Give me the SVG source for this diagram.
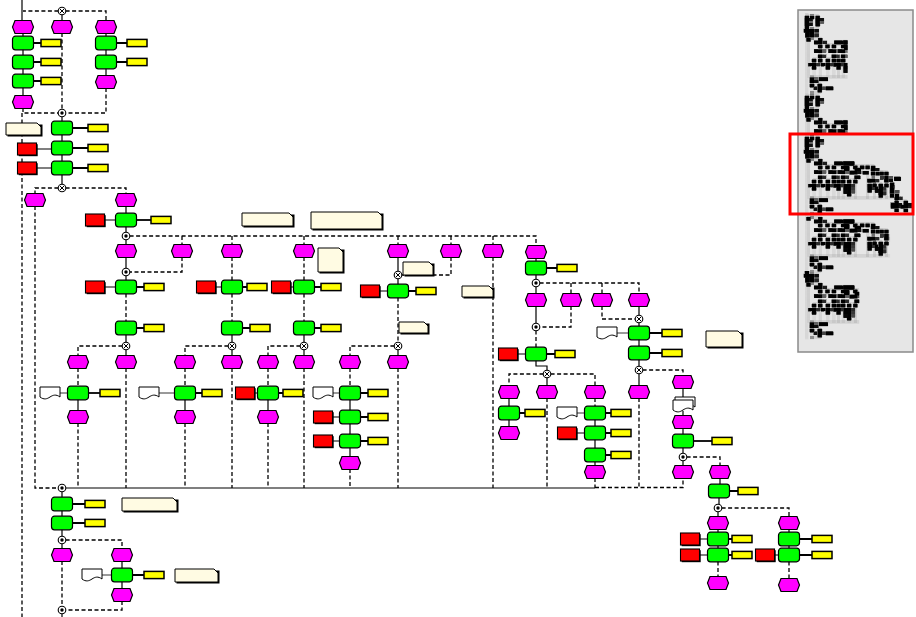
<svg xmlns="http://www.w3.org/2000/svg" width="916" height="617" viewBox="0 0 916 617">
<style>
.s{fill:none;stroke:#000;stroke-width:1.2}
.d{fill:none;stroke:#000;stroke-width:1.3;stroke-dasharray:4,2.5}
.y{fill:none;stroke:#000;stroke-width:1.8}
.t{fill:none;stroke:#000;stroke-width:0.8}
.an{fill:#fffbe3;stroke:#000;stroke-width:1}
.sh{fill:#000}
</style>
<defs>
<path id="ev" d="M-8,-6.5H8L10.5,0L8,6.5H-8L-10.5,0Z" fill="#ff00ff" stroke="#000" stroke-width="1.2"/>
<rect id="fn" x="-10.5" y="-6.8" width="21" height="13.6" rx="3" fill="#00ff00" stroke="#000" stroke-width="1.2"/>
<rect id="ye" x="-10" y="-3.6" width="20" height="7.2" fill="#ffff00" stroke="#000" stroke-width="1.5"/>
<g id="rd"><rect x="-8.3" y="-4.8" width="19" height="12" fill="#000"/><rect x="-9.5" y="-6" width="19" height="12" fill="#ff0000" stroke="#000" stroke-width="1.1"/></g>
<path id="doc" d="M-10,-6H10V4C6,1 3,2 0,4C-3,6 -6,7 -10,4Z" fill="#fff" stroke="#000" stroke-width="1"/>
<g id="xo"><circle r="3.8" fill="#fff" stroke="#000" stroke-width="1.1"/><path d="M-2,-2L2,2M2,-2L-2,2" stroke="#000" stroke-width="1"/></g>
<g id="and"><circle r="3.8" fill="#fff" stroke="#000" stroke-width="1.1"/><circle r="1.7" fill="#000"/></g>
<filter id="blk" x="-5%" y="-5%" width="110%" height="110%"><feColorMatrix type="matrix" values="0 0 0 0 0 0 0 0 0 0 0 0 0 0 0 0 0 0 1 0"/><feMorphology operator="dilate" radius="0.75"/></filter>
<clipPath id="mmbox"><rect x="799" y="11" width="113" height="340"/></clipPath>
<clipPath id="cl1"><rect x="0" y="0" width="330" height="617"/></clipPath>
<clipPath id="cl2"><rect x="0" y="0" width="330" height="300"/></clipPath>
<clipPath id="cl3"><rect x="0" y="180" width="660" height="437"/></clipPath>
<clipPath id="cl4"><rect x="0" y="100" width="420" height="517"/></clipPath>
</defs>
<rect width="916" height="617" fill="#fff"/>
<g id="diagram">
<g id="connectors">
<path class="s" d="M22,0V21"/>
<path class="d" d="M58.4,11H23M65.6,11H106V21"/>
<path class="s" d="M62,14.6V21"/>
<path class="s" d="M23,33V36.5M23,49.5V55.5M23,68.5V74.5M23,87.5V96M106,33V36.5M106,49.5V55.5M106,68.5V76"/>
<path class="y" d="M33,43H41M33,62H41M33,81H41M116,43H127M116,62H127"/>
<path class="d" d="M62,33V109.4M106,88V113H65.6M23,108V113H58.4M22,113V617"/>
<path class="s" d="M62,116.6V121.5M62,134.5V141.5M62,154.5V161.5M62,174.5V184.4"/>
<path class="y" d="M72,128H88M72,148H88M72,168H88"/>
<path class="s" d="M36.5,149H52M36.5,168H52"/>
<path class="d" d="M58.4,188H35V194M65.6,188H126V194M35,206V488H58.4"/>
<path class="s" d="M126,206V213.5M126,226.5V232.4M104.5,220H116"/>
<path class="y" d="M136,220H151"/>
<path class="d" d="M129.6,236H536V246M182,236V245M232,236V245M304,236V245M398,236V245M451,236V245M493,236V245"/>
<path class="s" d="M126,239.6V245M126,257V268.4M126,275.6V280.5M104.5,287H116"/>
<path class="d" d="M182,257V272H129.6M126,293.5V321.5"/>
<path class="y" d="M136,287H144M136,328H144"/>
<path class="s" d="M126,334.5V342.4M126,349.6V356"/>
<path class="d" d="M122.4,346H78V356M78,368V386.5M78,423V488M126,368V488"/>
<path class="s" d="M78,399.5V411"/>
<path class="t" d="M60,393H68"/>
<path class="y" d="M88,393H100"/>
<path class="d" d="M232,257V280.5M232,293.5V321.5M228.4,346H185V356M185,368V386.5M185,423V488M232,368V488"/>
<path class="s" d="M215.5,287H222M232,334.5V342.4M232,349.6V356M185,399.5V411"/>
<path class="y" d="M242,287H247M242,328H250M195,393H202"/>
<path class="t" d="M159,393H175"/>
<path class="d" d="M304,257V280.5M304,293.5V321.5M300.4,346H268V356M268,368V386.5M268,423V488M304,368V488"/>
<path class="s" d="M290.5,287H294M304,334.5V342.4M304,349.6V356M254.5,393H258M268,399.5V411"/>
<path class="y" d="M314,287H321M314,328H321M278,393H283"/>
<path class="s" d="M398,257V271.4M398,278.6V284.5M379.5,291H388"/>
<path class="d" d="M451,257V275H401.6M398,297.5V342.4M394.4,346H350V356M350,368V386.5M350,469V488M398,368V488M493,257V488"/>
<path class="y" d="M408,291H416M360,393H368M360,417H368M360,441H368"/>
<path class="s" d="M398,349.6V356M350,399.5V410.5M332.5,417H340M350,423.5V434.5M332.5,441H340M350,447.5V457"/>
<path class="t" d="M333,393H340"/>
<path class="s" d="M536,258V261.5M536,274.5V279.4M536,286.6V294M536,306V323.4"/>
<path class="y" d="M546,268H557M546,354H555"/>
<path class="d" d="M539.6,283H639V294M571,283V294M602,283V294M571,306V327H539.6M536,330.6V347.5"/>
<path class="s" d="M517.5,354H526M536,360.5V366H547V370.4"/>
<path class="d" d="M543.4,374H509V386M550.6,374H595V386M547,398V488"/>
<path class="s" d="M547,377.6V386M509,398V406.5M509,419.5V427"/>
<path class="y" d="M519,413H525M605,413H611M605,433H611M605,455H611"/>
<path class="d" d="M595,398V406.5M595,478V488"/>
<path class="t" d="M577,413H585"/>
<path class="s" d="M595,419.5V426.5M576.5,433H585M595,439.5V448.5M595,461.5V466"/>
<path class="d" d="M602,306V319H635.4"/>
<path class="s" d="M639,306V315.4M639,322.6V326.5M639,339.5V346.5M639,359.5V366.4M639,373.6V386"/>
<path class="t" d="M617,333H629"/>
<path class="y" d="M649,333H662M649,353H662"/>
<path class="d" d="M642.6,370H683V376M639,398V488"/>
<path class="s" d="M683,388V399M683,411V416M683,428V434.5M683,447.5V453.4M683,460.6V466"/>
<path class="y" d="M693,441H712"/>
<path class="d" d="M686.6,457H720V466M595,487.5H683V478"/>
<path class="s" d="M65.6,488H595" stroke-width="1.5"/>
<path class="s" d="M720,478V484.5M719,497.5V504.4M718,511.6V517M718,529V532.5M699.5,539H708M718,545.5V548.5M699.5,555H708M789,529V532.5M789,545.5V548.5M774.5,555H779"/>
<path class="y" d="M729,491H738M728,539H732M728,555H732M799,539H812M799,555H812"/>
<path class="d" d="M721.6,508H789V517M718,561.5V577M789,561.5V579"/>
<path class="s" d="M62,491.6V497.5M62,510.5V516.5M62,529.5V536.4M62,543.6V549M122,561V568.5M122,581.5V589M62,613.6V617"/>
<path class="y" d="M72,504H85M72,523H85M132,575H144"/>
<path class="d" d="M65.6,540H122V549M62,561V606.4M122,601V610H65.6"/>
<path class="t" d="M102,575H112"/>
</g>
<g id="e1"><use href="#ev" x="23" y="27"/></g>
<g id="e2"><use href="#ev" x="62" y="27"/></g>
<g id="e3"><use href="#ev" x="106" y="27"/></g>
<g id="e4"><use href="#ev" x="23" y="102"/></g>
<g id="e5"><use href="#ev" x="106" y="82"/></g>
<g id="e6"><use href="#ev" x="35" y="200"/></g>
<g id="e7"><use href="#ev" x="126" y="200"/></g>
<g id="e8"><use href="#ev" x="126" y="251"/></g>
<g id="e9"><use href="#ev" x="182" y="251"/></g>
<g id="e10"><use href="#ev" x="232" y="251"/></g>
<g id="e11"><use href="#ev" x="304" y="251"/></g>
<g id="e12"><use href="#ev" x="398" y="251"/></g>
<g id="e13"><use href="#ev" x="451" y="251"/></g>
<g id="e14"><use href="#ev" x="493" y="251"/></g>
<g id="e15"><use href="#ev" x="536" y="252"/></g>
<g id="e16"><use href="#ev" x="78" y="362"/></g>
<g id="e17"><use href="#ev" x="126" y="362"/></g>
<g id="e18"><use href="#ev" x="78" y="417"/></g>
<g id="e19"><use href="#ev" x="185" y="362"/></g>
<g id="e20"><use href="#ev" x="232" y="362"/></g>
<g id="e21"><use href="#ev" x="185" y="417"/></g>
<g id="e22"><use href="#ev" x="268" y="362"/></g>
<g id="e23"><use href="#ev" x="304" y="362"/></g>
<g id="e24"><use href="#ev" x="268" y="417"/></g>
<g id="e25"><use href="#ev" x="350" y="362"/></g>
<g id="e26"><use href="#ev" x="398" y="362"/></g>
<g id="e27"><use href="#ev" x="350" y="463"/></g>
<g id="e28"><use href="#ev" x="536" y="300"/></g>
<g id="e29"><use href="#ev" x="571" y="300"/></g>
<g id="e30"><use href="#ev" x="602" y="300"/></g>
<g id="e31"><use href="#ev" x="639" y="300"/></g>
<g id="e32"><use href="#ev" x="509" y="392"/></g>
<g id="e33"><use href="#ev" x="547" y="392"/></g>
<g id="e34"><use href="#ev" x="595" y="392"/></g>
<g id="e35"><use href="#ev" x="509" y="433"/></g>
<g id="e36"><use href="#ev" x="595" y="472"/></g>
<g id="e37"><use href="#ev" x="639" y="392"/></g>
<g id="e38"><use href="#ev" x="683" y="382"/></g>
<g id="e39"><use href="#ev" x="683" y="422"/></g>
<g id="e40"><use href="#ev" x="683" y="472"/></g>
<g id="e41"><use href="#ev" x="720" y="472"/></g>
<g id="e42"><use href="#ev" x="718" y="523"/></g>
<g id="e43"><use href="#ev" x="789" y="523"/></g>
<g id="e44"><use href="#ev" x="718" y="583"/></g>
<g id="e45"><use href="#ev" x="789" y="585"/></g>
<g id="e46"><use href="#ev" x="62" y="555"/></g>
<g id="e47"><use href="#ev" x="122" y="555"/></g>
<g id="e48"><use href="#ev" x="122" y="595"/></g>
<g id="f1"><use href="#fn" x="23" y="43"/></g>
<g id="f2"><use href="#fn" x="23" y="62"/></g>
<g id="f3"><use href="#fn" x="23" y="81"/></g>
<g id="f4"><use href="#fn" x="106" y="43"/></g>
<g id="f5"><use href="#fn" x="106" y="62"/></g>
<g id="f6"><use href="#fn" x="62" y="128"/></g>
<g id="f7"><use href="#fn" x="62" y="148"/></g>
<g id="f8"><use href="#fn" x="62" y="168"/></g>
<g id="f9"><use href="#fn" x="126" y="220"/></g>
<g id="f10"><use href="#fn" x="126" y="287"/></g>
<g id="f11"><use href="#fn" x="126" y="328"/></g>
<g id="f12"><use href="#fn" x="78" y="393"/></g>
<g id="f13"><use href="#fn" x="232" y="287"/></g>
<g id="f14"><use href="#fn" x="232" y="328"/></g>
<g id="f15"><use href="#fn" x="185" y="393"/></g>
<g id="f16"><use href="#fn" x="304" y="287"/></g>
<g id="f17"><use href="#fn" x="304" y="328"/></g>
<g id="f18"><use href="#fn" x="268" y="393"/></g>
<g id="f19"><use href="#fn" x="398" y="291"/></g>
<g id="f20"><use href="#fn" x="350" y="393"/></g>
<g id="f21"><use href="#fn" x="350" y="417"/></g>
<g id="f22"><use href="#fn" x="350" y="441"/></g>
<g id="f23"><use href="#fn" x="536" y="268"/></g>
<g id="f24"><use href="#fn" x="536" y="354"/></g>
<g id="f25"><use href="#fn" x="509" y="413"/></g>
<g id="f26"><use href="#fn" x="595" y="413"/></g>
<g id="f27"><use href="#fn" x="595" y="433"/></g>
<g id="f28"><use href="#fn" x="595" y="455"/></g>
<g id="f29"><use href="#fn" x="639" y="333"/></g>
<g id="f30"><use href="#fn" x="639" y="353"/></g>
<g id="f31"><use href="#fn" x="683" y="441"/></g>
<g id="f32"><use href="#fn" x="719" y="491"/></g>
<g id="f33"><use href="#fn" x="718" y="539"/></g>
<g id="f34"><use href="#fn" x="718" y="555"/></g>
<g id="f35"><use href="#fn" x="789" y="539"/></g>
<g id="f36"><use href="#fn" x="789" y="555"/></g>
<g id="f37"><use href="#fn" x="62" y="504"/></g>
<g id="f38"><use href="#fn" x="62" y="523"/></g>
<g id="f39"><use href="#fn" x="122" y="575"/></g>
<g id="o1"><use href="#ye" x="51" y="43"/></g>
<g id="o2"><use href="#ye" x="51" y="62"/></g>
<g id="o3"><use href="#ye" x="51" y="81"/></g>
<g id="o4"><use href="#ye" x="137" y="43"/></g>
<g id="o5"><use href="#ye" x="137" y="62"/></g>
<g id="o6"><use href="#ye" x="98" y="128"/></g>
<g id="o7"><use href="#ye" x="98" y="148"/></g>
<g id="o8"><use href="#ye" x="98" y="168"/></g>
<g id="o9"><use href="#ye" x="161" y="220"/></g>
<g id="o10"><use href="#ye" x="154" y="287"/></g>
<g id="o11"><use href="#ye" x="154" y="328"/></g>
<g id="o12"><use href="#ye" x="110" y="393"/></g>
<g id="o13"><use href="#ye" x="257" y="287"/></g>
<g id="o14"><use href="#ye" x="260" y="328"/></g>
<g id="o15"><use href="#ye" x="212" y="393"/></g>
<g id="o16"><use href="#ye" x="331" y="287"/></g>
<g id="o17"><use href="#ye" x="331" y="328"/></g>
<g id="o18"><use href="#ye" x="293" y="393"/></g>
<g id="o19"><use href="#ye" x="426" y="291"/></g>
<g id="o20"><use href="#ye" x="378" y="393"/></g>
<g id="o21"><use href="#ye" x="378" y="417"/></g>
<g id="o22"><use href="#ye" x="378" y="441"/></g>
<g id="o23"><use href="#ye" x="567" y="268"/></g>
<g id="o24"><use href="#ye" x="565" y="354"/></g>
<g id="o25"><use href="#ye" x="535" y="413"/></g>
<g id="o26"><use href="#ye" x="621" y="413"/></g>
<g id="o27"><use href="#ye" x="621" y="433"/></g>
<g id="o28"><use href="#ye" x="621" y="455"/></g>
<g id="o29"><use href="#ye" x="672" y="333"/></g>
<g id="o30"><use href="#ye" x="672" y="353"/></g>
<g id="o31"><use href="#ye" x="722" y="441"/></g>
<g id="o32"><use href="#ye" x="748" y="491"/></g>
<g id="o33"><use href="#ye" x="742" y="539"/></g>
<g id="o34"><use href="#ye" x="742" y="555"/></g>
<g id="o35"><use href="#ye" x="822" y="539"/></g>
<g id="o36"><use href="#ye" x="822" y="555"/></g>
<g id="o37"><use href="#ye" x="95" y="504"/></g>
<g id="o38"><use href="#ye" x="95" y="523"/></g>
<g id="o39"><use href="#ye" x="154" y="575"/></g>
<g id="r1"><use href="#rd" x="27" y="149"/></g>
<g id="r2"><use href="#rd" x="27" y="168"/></g>
<g id="r3"><use href="#rd" x="95" y="220"/></g>
<g id="r4"><use href="#rd" x="95" y="287"/></g>
<g id="r5"><use href="#rd" x="206" y="287"/></g>
<g id="r6"><use href="#rd" x="281" y="287"/></g>
<g id="r7"><use href="#rd" x="245" y="393"/></g>
<g id="r8"><use href="#rd" x="370" y="291"/></g>
<g id="r9"><use href="#rd" x="323" y="417"/></g>
<g id="r10"><use href="#rd" x="323" y="441"/></g>
<g id="r11"><use href="#rd" x="508" y="354"/></g>
<g id="r12"><use href="#rd" x="567" y="433"/></g>
<g id="r13"><use href="#rd" x="690" y="539"/></g>
<g id="r14"><use href="#rd" x="690" y="555"/></g>
<g id="r15"><use href="#rd" x="765" y="555"/></g>
<g id="d1"><use href="#doc" x="50" y="393"/></g>
<g id="d2"><use href="#doc" x="149" y="393"/></g>
<g id="d3"><use href="#doc" x="323" y="393"/></g>
<g id="d4"><use href="#doc" x="567" y="413"/></g>
<g id="d5"><use href="#doc" x="607" y="333"/></g>
<g id="d6"><use href="#doc" x="92" y="575"/></g>
<g id="d7"><use href="#doc" x="685" y="403"/><use href="#doc" x="683" y="406"/></g>
<g id="c1"><use href="#xo" x="62" y="11"/></g>
<g id="c2"><use href="#and" x="62" y="113"/></g>
<g id="c3"><use href="#xo" x="62" y="188"/></g>
<g id="c4"><use href="#and" x="126" y="236"/></g>
<g id="c5"><use href="#and" x="126" y="272"/></g>
<g id="c6"><use href="#xo" x="126" y="346"/></g>
<g id="c7"><use href="#xo" x="232" y="346"/></g>
<g id="c8"><use href="#xo" x="304" y="346"/></g>
<g id="c9"><use href="#xo" x="398" y="275"/></g>
<g id="c10"><use href="#xo" x="398" y="346"/></g>
<g id="c11"><use href="#and" x="536" y="283"/></g>
<g id="c12"><use href="#and" x="536" y="327"/></g>
<g id="c13"><use href="#xo" x="547" y="374"/></g>
<g id="c14"><use href="#xo" x="639" y="319"/></g>
<g id="c15"><use href="#xo" x="639" y="370"/></g>
<g id="c16"><use href="#and" x="683" y="457"/></g>
<g id="c17"><use href="#and" x="718" y="508"/></g>
<g id="c18"><use href="#and" x="62" y="488"/></g>
<g id="c19"><use href="#and" x="62" y="540"/></g>
<g id="c20"><use href="#and" x="62" y="610"/></g>
<g id="a1"><rect class="sh" x="7.5" y="124.5" width="35" height="12"/><path class="an" d="M6,123H37L41,127V135H6Z"/></g>
<g id="a2"><rect class="sh" x="243.5" y="214.5" width="51" height="13"/><path class="an" d="M242,213H289L293,217V226H242Z"/></g>
<g id="a3"><rect class="sh" x="312.5" y="213.5" width="71" height="17"/><path class="an" d="M311,212H378L382,216V229H311Z"/></g>
<g id="a4"><rect class="sh" x="319.5" y="249.5" width="25" height="24"/><path class="an" d="M318,248H339L343,252V272H318Z"/></g>
<g id="a5"><rect class="sh" x="404.5" y="263.5" width="30" height="13"/><path class="an" d="M403,262H429L433,266V275H403Z"/></g>
<g id="a6"><rect class="sh" x="463.5" y="287.5" width="31" height="11"/><path class="an" d="M462,286H489L493,290V297H462Z"/></g>
<g id="a7"><rect class="sh" x="400.5" y="323.5" width="29" height="11"/><path class="an" d="M399,322H424L428,326V333H399Z"/></g>
<g id="a8"><rect class="sh" x="707.5" y="332.5" width="36" height="16"/><path class="an" d="M706,331H738L742,335V347H706Z"/></g>
<g id="a9"><rect class="sh" x="123.5" y="499.5" width="55" height="13"/><path class="an" d="M122,498H173L177,502V511H122Z"/></g>
<g id="a10"><rect class="sh" x="176.5" y="570.5" width="43" height="13"/><path class="an" d="M175,569H214L218,573V582H175Z"/></g>
</g>
<g id="minimap">
<rect x="798" y="10" width="115" height="342" fill="#e6e6e6" stroke="#8a8a8a" stroke-width="1.5"/>
<g clip-path="url(#mmbox)">
<g filter="url(#blk)">
<use href="#diagram" transform="translate(804,135) scale(0.129)"/>
<use href="#diagram" clip-path="url(#cl1)" transform="translate(804,14) scale(0.129)"/>
<use href="#diagram" clip-path="url(#cl2)" transform="translate(804,94) scale(0.129)"/>
<use href="#diagram" clip-path="url(#cl3)" transform="translate(804,193) scale(0.129)"/>
<use href="#diagram" clip-path="url(#cl4)" transform="translate(804,259) scale(0.129)"/>
</g>
</g>
<rect x="790" y="134" width="123" height="80" fill="none" stroke="#ff0000" stroke-width="3"/>
</g>
</svg>
